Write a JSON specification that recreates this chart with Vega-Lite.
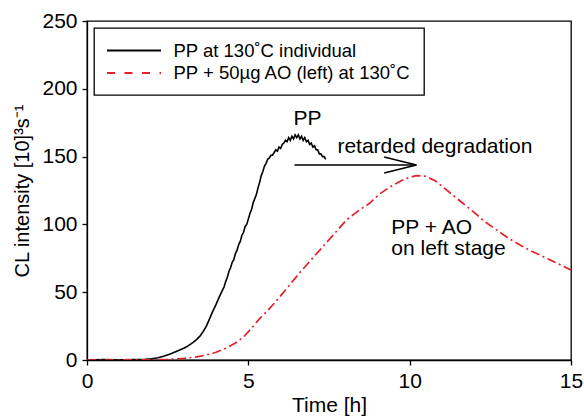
{
  "$schema": "https://vega.github.io/schema/vega-lite/v6.json",
  "width": 484,
  "height": 339,
  "autosize": {"type": "none"},
  "padding": {"left": 87, "top": 21, "right": 13, "bottom": 60},
  "background": "white",
  "config": {
    "font": "Liberation Sans",
    "view": {"stroke": "black", "strokeWidth": 1.3},
    "axis": {
      "grid": false,
      "domainColor": "black",
      "domainWidth": 1.3,
      "tickColor": "black",
      "tickWidth": 1.3,
      "tickSize": 5,
      "labelFont": "Liberation Sans",
      "labelFontSize": 21,
      "labelColor": "black",
      "titleFont": "Liberation Sans",
      "titleFontWeight": "normal",
      "titleColor": "black"
    }
  },
  "datasets": {
    "curves": [
      {"t": 0.0, "v": 0, "s": "PP at 130˚C individual"},
      {"t": 0.5, "v": 0.3, "s": "PP at 130˚C individual"},
      {"t": 1.0, "v": 0.2, "s": "PP at 130˚C individual"},
      {"t": 1.5, "v": 0.4, "s": "PP at 130˚C individual"},
      {"t": 1.8, "v": 0.6, "s": "PP at 130˚C individual"},
      {"t": 2.0, "v": 0.9, "s": "PP at 130˚C individual"},
      {"t": 2.2, "v": 1.6, "s": "PP at 130˚C individual"},
      {"t": 2.4, "v": 2.9, "s": "PP at 130˚C individual"},
      {"t": 2.6, "v": 4.6, "s": "PP at 130˚C individual"},
      {"t": 2.8, "v": 6.6, "s": "PP at 130˚C individual"},
      {"t": 3.0, "v": 8.7, "s": "PP at 130˚C individual"},
      {"t": 3.1, "v": 9.9, "s": "PP at 130˚C individual"},
      {"t": 3.2, "v": 11.5, "s": "PP at 130˚C individual"},
      {"t": 3.3, "v": 13.2, "s": "PP at 130˚C individual"},
      {"t": 3.4, "v": 15.2, "s": "PP at 130˚C individual"},
      {"t": 3.5, "v": 17.6, "s": "PP at 130˚C individual"},
      {"t": 3.6, "v": 21, "s": "PP at 130˚C individual"},
      {"t": 3.7, "v": 25, "s": "PP at 130˚C individual"},
      {"t": 3.8, "v": 30.5, "s": "PP at 130˚C individual"},
      {"t": 3.9, "v": 36, "s": "PP at 130˚C individual"},
      {"t": 4.0, "v": 41, "s": "PP at 130˚C individual"},
      {"t": 4.1, "v": 46.5, "s": "PP at 130˚C individual"},
      {"t": 4.2, "v": 51.5, "s": "PP at 130˚C individual"},
      {"t": 4.25, "v": 54, "s": "PP at 130˚C individual"},
      {"t": 4.3, "v": 58, "s": "PP at 130˚C individual"},
      {"t": 4.35, "v": 61, "s": "PP at 130˚C individual"},
      {"t": 4.4, "v": 65.5, "s": "PP at 130˚C individual"},
      {"t": 4.45, "v": 68, "s": "PP at 130˚C individual"},
      {"t": 4.5, "v": 72, "s": "PP at 130˚C individual"},
      {"t": 4.55, "v": 74, "s": "PP at 130˚C individual"},
      {"t": 4.6, "v": 78.5, "s": "PP at 130˚C individual"},
      {"t": 4.65, "v": 81, "s": "PP at 130˚C individual"},
      {"t": 4.7, "v": 85, "s": "PP at 130˚C individual"},
      {"t": 4.75, "v": 87.5, "s": "PP at 130˚C individual"},
      {"t": 4.8, "v": 92, "s": "PP at 130˚C individual"},
      {"t": 4.85, "v": 94, "s": "PP at 130˚C individual"},
      {"t": 4.9, "v": 98.5, "s": "PP at 130˚C individual"},
      {"t": 4.95, "v": 100, "s": "PP at 130˚C individual"},
      {"t": 5.0, "v": 104, "s": "PP at 130˚C individual"},
      {"t": 5.05, "v": 108, "s": "PP at 130˚C individual"},
      {"t": 5.1, "v": 111, "s": "PP at 130˚C individual"},
      {"t": 5.15, "v": 116, "s": "PP at 130˚C individual"},
      {"t": 5.2, "v": 119, "s": "PP at 130˚C individual"},
      {"t": 5.25, "v": 122, "s": "PP at 130˚C individual"},
      {"t": 5.3, "v": 127, "s": "PP at 130˚C individual"},
      {"t": 5.35, "v": 131, "s": "PP at 130˚C individual"},
      {"t": 5.4, "v": 136, "s": "PP at 130˚C individual"},
      {"t": 5.45, "v": 139, "s": "PP at 130˚C individual"},
      {"t": 5.5, "v": 143, "s": "PP at 130˚C individual"},
      {"t": 5.55, "v": 145, "s": "PP at 130˚C individual"},
      {"t": 5.6, "v": 148, "s": "PP at 130˚C individual"},
      {"t": 5.65, "v": 149, "s": "PP at 130˚C individual"},
      {"t": 5.7, "v": 151, "s": "PP at 130˚C individual"},
      {"t": 5.75, "v": 151, "s": "PP at 130˚C individual"},
      {"t": 5.8, "v": 153, "s": "PP at 130˚C individual"},
      {"t": 5.85, "v": 155, "s": "PP at 130˚C individual"},
      {"t": 5.9, "v": 154, "s": "PP at 130˚C individual"},
      {"t": 5.95, "v": 157, "s": "PP at 130˚C individual"},
      {"t": 6.0, "v": 156, "s": "PP at 130˚C individual"},
      {"t": 6.05, "v": 159, "s": "PP at 130˚C individual"},
      {"t": 6.1, "v": 160, "s": "PP at 130˚C individual"},
      {"t": 6.15, "v": 162, "s": "PP at 130˚C individual"},
      {"t": 6.2, "v": 161, "s": "PP at 130˚C individual"},
      {"t": 6.25, "v": 164, "s": "PP at 130˚C individual"},
      {"t": 6.3, "v": 162, "s": "PP at 130˚C individual"},
      {"t": 6.35, "v": 165, "s": "PP at 130˚C individual"},
      {"t": 6.4, "v": 163, "s": "PP at 130˚C individual"},
      {"t": 6.45, "v": 166, "s": "PP at 130˚C individual"},
      {"t": 6.5, "v": 164, "s": "PP at 130˚C individual"},
      {"t": 6.55, "v": 166, "s": "PP at 130˚C individual"},
      {"t": 6.6, "v": 163, "s": "PP at 130˚C individual"},
      {"t": 6.65, "v": 165, "s": "PP at 130˚C individual"},
      {"t": 6.7, "v": 162, "s": "PP at 130˚C individual"},
      {"t": 6.75, "v": 164, "s": "PP at 130˚C individual"},
      {"t": 6.8, "v": 161, "s": "PP at 130˚C individual"},
      {"t": 6.85, "v": 162, "s": "PP at 130˚C individual"},
      {"t": 6.9, "v": 159, "s": "PP at 130˚C individual"},
      {"t": 6.95, "v": 160, "s": "PP at 130˚C individual"},
      {"t": 7.0, "v": 157, "s": "PP at 130˚C individual"},
      {"t": 7.05, "v": 158, "s": "PP at 130˚C individual"},
      {"t": 7.1, "v": 155, "s": "PP at 130˚C individual"},
      {"t": 7.15, "v": 155, "s": "PP at 130˚C individual"},
      {"t": 7.2, "v": 152, "s": "PP at 130˚C individual"},
      {"t": 7.25, "v": 152, "s": "PP at 130˚C individual"},
      {"t": 7.3, "v": 150, "s": "PP at 130˚C individual"},
      {"t": 7.35, "v": 150, "s": "PP at 130˚C individual"},
      {"t": 7.4, "v": 148, "s": "PP at 130˚C individual"},
      {"t": 0.0, "v": 0, "s": "PP + 50µg AO (left) at 130˚C"},
      {"t": 1.0, "v": 0, "s": "PP + 50µg AO (left) at 130˚C"},
      {"t": 1.5, "v": 0.1, "s": "PP + 50µg AO (left) at 130˚C"},
      {"t": 2.0, "v": 0.2, "s": "PP + 50µg AO (left) at 130˚C"},
      {"t": 2.5, "v": 0.5, "s": "PP + 50µg AO (left) at 130˚C"},
      {"t": 3.0, "v": 1.2, "s": "PP + 50µg AO (left) at 130˚C"},
      {"t": 3.4, "v": 2.3, "s": "PP + 50µg AO (left) at 130˚C"},
      {"t": 3.7, "v": 3.7, "s": "PP + 50µg AO (left) at 130˚C"},
      {"t": 4.0, "v": 5.7, "s": "PP + 50µg AO (left) at 130˚C"},
      {"t": 4.3, "v": 8.6, "s": "PP + 50µg AO (left) at 130˚C"},
      {"t": 4.6, "v": 12.5, "s": "PP + 50µg AO (left) at 130˚C"},
      {"t": 4.85, "v": 17, "s": "PP + 50µg AO (left) at 130˚C"},
      {"t": 5.1, "v": 23.5, "s": "PP + 50µg AO (left) at 130˚C"},
      {"t": 5.35, "v": 30.5, "s": "PP + 50µg AO (left) at 130˚C"},
      {"t": 5.6, "v": 36.5, "s": "PP + 50µg AO (left) at 130˚C"},
      {"t": 5.81, "v": 42, "s": "PP + 50µg AO (left) at 130˚C"},
      {"t": 6.2, "v": 53, "s": "PP + 50µg AO (left) at 130˚C"},
      {"t": 6.58, "v": 64, "s": "PP + 50µg AO (left) at 130˚C"},
      {"t": 6.95, "v": 74, "s": "PP + 50µg AO (left) at 130˚C"},
      {"t": 7.31, "v": 83.6, "s": "PP + 50µg AO (left) at 130˚C"},
      {"t": 7.7, "v": 94, "s": "PP + 50µg AO (left) at 130˚C"},
      {"t": 8.03, "v": 103, "s": "PP + 50µg AO (left) at 130˚C"},
      {"t": 8.24, "v": 107, "s": "PP + 50µg AO (left) at 130˚C"},
      {"t": 8.5, "v": 111.5, "s": "PP + 50µg AO (left) at 130˚C"},
      {"t": 8.76, "v": 115.6, "s": "PP + 50µg AO (left) at 130˚C"},
      {"t": 9.07, "v": 122.5, "s": "PP + 50µg AO (left) at 130˚C"},
      {"t": 9.48, "v": 129, "s": "PP + 50µg AO (left) at 130˚C"},
      {"t": 9.85, "v": 133.5, "s": "PP + 50µg AO (left) at 130˚C"},
      {"t": 10.2, "v": 136, "s": "PP + 50µg AO (left) at 130˚C"},
      {"t": 10.5, "v": 135.5, "s": "PP + 50µg AO (left) at 130˚C"},
      {"t": 10.8, "v": 132, "s": "PP + 50µg AO (left) at 130˚C"},
      {"t": 11.24, "v": 123.5, "s": "PP + 50µg AO (left) at 130˚C"},
      {"t": 11.6, "v": 116.5, "s": "PP + 50µg AO (left) at 130˚C"},
      {"t": 11.97, "v": 109.4, "s": "PP + 50µg AO (left) at 130˚C"},
      {"t": 12.3, "v": 102.5, "s": "PP + 50µg AO (left) at 130˚C"},
      {"t": 12.69, "v": 96, "s": "PP + 50µg AO (left) at 130˚C"},
      {"t": 13.05, "v": 90, "s": "PP + 50µg AO (left) at 130˚C"},
      {"t": 13.42, "v": 84.8, "s": "PP + 50µg AO (left) at 130˚C"},
      {"t": 13.8, "v": 80, "s": "PP + 50µg AO (left) at 130˚C"},
      {"t": 14.14, "v": 76.2, "s": "PP + 50µg AO (left) at 130˚C"},
      {"t": 14.6, "v": 71, "s": "PP + 50µg AO (left) at 130˚C"},
      {"t": 15.0, "v": 66.4, "s": "PP + 50µg AO (left) at 130˚C"}
    ],
    "arrow": [
      {"t": 6.43, "v": 143.8, "seg": "shaft", "o": 1},
      {"t": 10.21, "v": 143.8, "seg": "shaft", "o": 2},
      {"t": 9.21, "v": 149.7, "seg": "head", "o": 1},
      {"t": 10.21, "v": 143.8, "seg": "head", "o": 2},
      {"t": 9.21, "v": 137.9, "seg": "head", "o": 3}
    ],
    "labels": [
      {"t": 6.4, "v": 173.3, "label": "PP"},
      {"t": 7.76, "v": 152.4, "label": "retarded degradation"},
      {"t": 9.43, "v": 92.6, "label": "PP + AO"},
      {"t": 9.43, "v": 77.8, "label": "on left stage"}
    ]
  },
  "layer": [
    {
      "data": {"name": "curves"},
      "transform": [{"filter": "datum.s === 'PP at 130˚C individual'"}],
      "mark": {"type": "line", "strokeWidth": 1.6, "clip": true},
      "encoding": {
        "x": {"field": "t", "type": "quantitative", "scale": {"domain": [0, 15], "nice": false},
              "axis": {"values": [0, 5, 10, 15], "title": "Time [h]", "titleFontSize": 21, "labelPadding": 5, "titlePadding": 3, "labelFlush": false}},
        "y": {"field": "v", "type": "quantitative", "scale": {"domain": [0, 250], "nice": false},
              "axis": {"values": [0, 50, 100, 150, 200, 250], "title": "CL intensity [10]³s⁻¹", "titleFontSize": 20, "labelPadding": 5, "titlePadding": 9}},
        "color": {
          "field": "s", "type": "nominal",
          "scale": {"domain": ["PP at 130˚C individual", "PP + 50µg AO (left) at 130˚C"], "range": ["black", "#e4202a"]},
          "legend": {
            "title": null,
            "orient": "top-left",
            "offset": 7,
            "strokeColor": "black",
            "fillColor": "white",
            "padding": 12.5,
            "rowPadding": 2.5,
            "symbolType": "M-3,0H3",
            "symbolSize": 324,
            "symbolStrokeWidth": 2,
            "labelFont": "Liberation Sans",
            "labelFontSize": 18.5,
            "labelColor": "black",
            "labelOffset": 47,
            "labelLimit": 400,
            "encode": {
              "symbols": {"update": {
                "x": {"value": 27.5},
                "fill": {"value": "transparent"},
                "strokeDash": [{"test": "datum.label !== 'PP at 130˚C individual'", "value": [8, 9.5]}, {"value": [1, 0]}]
              }},
              "legend": {"update": {"strokeWidth": {"value": 1.3}}}
            }
          }
        }
      }
    },
    {
      "data": {"name": "curves"},
      "transform": [{"filter": "datum.s !== 'PP at 130˚C individual'"}],
      "mark": {"type": "line", "strokeWidth": 1.7, "strokeDash": [9, 3.5, 2, 3.5], "clip": true},
      "encoding": {
        "x": {"field": "t", "type": "quantitative"},
        "y": {"field": "v", "type": "quantitative"},
        "color": {"field": "s", "type": "nominal"}
      }
    },
    {
      "data": {"name": "arrow"},
      "mark": {"type": "line", "color": "black", "strokeWidth": 1.6},
      "encoding": {
        "x": {"field": "t", "type": "quantitative"},
        "y": {"field": "v", "type": "quantitative"},
        "detail": {"field": "seg"},
        "order": {"field": "o"}
      }
    },
    {
      "data": {"name": "labels"},
      "mark": {"type": "text", "align": "left", "baseline": "alphabetic", "fontSize": 21, "font": "Liberation Sans", "color": "black"},
      "encoding": {
        "x": {"field": "t", "type": "quantitative"},
        "y": {"field": "v", "type": "quantitative"},
        "text": {"field": "label"}
      }
    }
  ]
}
